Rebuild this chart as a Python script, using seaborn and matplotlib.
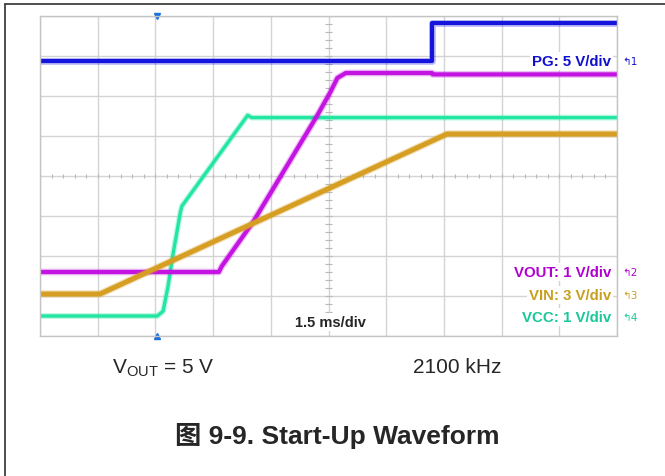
import matplotlib
matplotlib.use("Agg")
import matplotlib.pyplot as plt
import matplotlib.patheffects as pe
import numpy as np
import pandas as pd
import seaborn as sns

# time base in ms (1.5 ms/div, 10 div), levels in screen divisions (0 = bottom, 8 = top)
pg_t = [0, 10.19, 10.19, 15]
pg_y = [6.875, 6.875, 7.825, 7.825]

vout_t = [0, 4.65, 4.73, 5.54, 7.20, 7.55, 7.73, 7.95, 10.19, 10.21, 15]
vout_y = [1.60, 1.60, 1.75, 2.85, 5.50, 6.10, 6.45, 6.575, 6.575, 6.54, 6.54]

vin_t = [0, 1.56, 10.58, 15]
vin_y = [1.05, 1.05, 5.05, 5.05]

vcc_t = [0, 3.05, 3.20, 3.33, 3.45, 3.65, 3.69, 5.40, 5.50, 15]
vcc_y = [0.50, 0.50, 0.62, 1.25, 2.00, 3.10, 3.25, 5.52, 5.46, 5.46]

channels = ["PG: 5 V/div", "VOUT: 1 V/div", "VIN: 3 V/div", "VCC: 1 V/div"]
label_y = [6.875, 1.60, 1.03, 0.48]
colors = ["#1414dc", "#c414e2", "#d69e22", "#22e6a2"]
text_colors = ["#1010d0", "#b000d0", "#c8a020", "#18c898"]
marker_num = ["1", "2", "3", "4"]

sns.set_style("white")
plt.rcParams["font.family"] = ["Liberation Sans", "Noto Sans CJK SC", "DejaVu Sans"]
plt.rcParams["mathtext.fontset"] = "custom"
plt.rcParams["mathtext.rm"] = "Liberation Sans"

fig = plt.figure(figsize=(6.65, 4.77), dpi=100)
ax = fig.add_axes([40 / 665, 1 - 337 / 477, 577 / 665, 320 / 477])

# grid like the scope screen
ax.set_xlim(0, 15)
ax.set_ylim(0, 8)
ax.set_xticks(np.arange(0, 15.01, 1.5))
ax.set_yticks(np.arange(0, 8.01, 1))
ax.grid(True, color="#d4d4d4", lw=1)
ax.tick_params(length=0, labelbottom=False, labelleft=False)
for s in ax.spines.values():
    s.set_color("#c4c4c4")
    s.set_linewidth(1)

# minor ticks on the centre cross
ax.vlines(np.arange(0, 15.01, 0.3), 3.94, 4.06, color="#b8b8b8", lw=0.8)
ax.hlines(np.arange(0, 8.01, 0.2), 7.5 - 0.08, 7.5 + 0.08, color="#b8b8b8", lw=0.8)

traces = [
    (vcc_t, vcc_y, colors[3], 2.4),
    (vout_t, vout_y, colors[1], 3.0),
    (vin_t, vin_y, colors[2], 3.6),
    (pg_t, pg_y, colors[0], 3.0),
]
for t, y, c, lw in traces:
    df = pd.DataFrame({"t": t, "v": y})
    sns.lineplot(data=df, x="t", y="v", ax=ax, color=c, lw=lw,
                 estimator=None, sort=False, legend=False,
                 path_effects=[pe.Stroke(linewidth=lw + 1.8, foreground=c, alpha=0.3), pe.Normal()])
ax.set_xlabel("")
ax.set_ylabel("")

# trigger markers
ax.plot([3.05], [8.0], marker="v", color="#1c6fe0", ms=4, clip_on=False)
ax.plot([3.05], [0.0], marker="^", color="#1c6fe0", ms=4, clip_on=False)

# channel labels
for name, yy, tc, num in zip(channels, label_y, text_colors, marker_num):
    ax.text(14.85, yy, name, color=tc, fontsize=10.8, fontweight="bold", ha="right", va="center",
            bbox=dict(boxstyle="square,pad=0.15", fc="white", ec="none"))
    ax.text(15.15, yy, "\u21b0" + num, color=tc, fontsize=7.5, ha="left", va="center", clip_on=False,
            family="DejaVu Sans")

ax.text(7.55, 0.35, "1.5 ms/div", fontsize=10.5, fontweight="bold", ha="center", va="center",
        bbox=dict(boxstyle="square,pad=0.15", fc="white", ec="none"))

# text below the screen
fig.text(112 / 665, 1 - 368 / 477, "V$_{\\mathrm{OUT}}$ = 5 V", fontsize=15, ha="left", va="center")
fig.text(413 / 665, 1 - 368 / 477, "2100 kHz", fontsize=15, ha="left", va="center")
fig.text(337 / 665, 1 - 436 / 477, "图 9-9. Start-Up Waveform", fontsize=19, fontweight="bold",
         ha="center", va="center")

# page frame (left and top edges)
fig.add_artist(plt.Line2D([4.5 / 665, 4.5 / 665], [0, 1 - 5 / 477], color="#404040", lw=1.3))
fig.add_artist(plt.Line2D([4.5 / 665, 1], [1 - 5 / 477, 1 - 5 / 477], color="#404040", lw=1.3))

fig.savefig("out.png", dpi=100)
